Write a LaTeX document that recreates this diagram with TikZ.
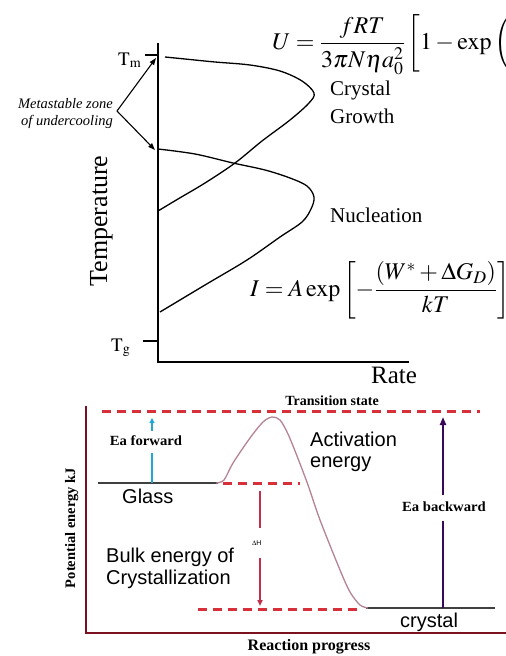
\documentclass[tikz,border=0pt]{standalone}
\usepackage{mathptmx}
\usepackage{fontspec}
\setmainfont{Liberation Serif}
\newfontfamily\arialf{Liberation Sans}
\usetikzlibrary{arrows.meta}
\definecolor{dashred}{HTML}{D8303A}
\definecolor{maroonax}{HTML}{7A1020}
\definecolor{mauve}{HTML}{B58492}
\definecolor{cyanar}{HTML}{22A6D6}
\definecolor{purplear}{HTML}{3A0858}
\definecolor{dhred}{HTML}{C0304A}
\definecolor{levelgray}{HTML}{404040}
\tikzset{
  ax/.style={line width=1.5pt},
  curve/.style={line width=1.3pt},
  blackarr/.style={line width=1.1pt,-{Triangle[length=7pt,width=5pt]}},
  reddash/.style={draw=dashred,line width=3pt,dash pattern=on 9pt off 6pt},
  serifbig/.style={font=\fontsize{21}{24}\selectfont},
  sanslab/.style={font=\arialf\fontsize{20}{22}\selectfont},
  boldlab/.style={font=\bfseries\fontsize{14}{16}\selectfont},
}
\begin{document}
\begin{tikzpicture}[x=1pt,y=-1pt]
\useasboundingbox (0,0) rectangle (506,656);
\fill[white] (0,0) rectangle (506,656);

% ---------- top diagram ----------
\coordinate (ytop) at (158,43);
\coordinate (org) at (158,362);
\coordinate (xend) at (409,362);
\draw[ax] (ytop) -- (org) -- (xend);
\coordinate (tmA) at (145,55); \coordinate (tmB) at (158,55);
\draw[ax] (tmA) -- (tmB);
\coordinate (tgA) at (143,341); \coordinate (tgB) at (158,341);
\draw[ax] (tgA) -- (tgB);

\node[anchor=base west,inner sep=0,font=\fontsize{19}{20}\selectfont] (tm) at (118,65) {$\mathrm{T_m}$};
\node[anchor=base west,inner sep=0,font=\fontsize{19}{20}\selectfont] (tg) at (111,351) {$\mathrm{T_g}$};

\node[rotate=90,anchor=base,inner sep=0,font=\fontsize{26}{28}\selectfont] (temp) at (107,221) {Temperature};
\node[anchor=base,inner sep=0,font=\fontsize{25}{28}\selectfont] (rate) at (394,383) {Rate};

% crystal growth curve
\draw[curve] plot[smooth,tension=0.55] coordinates {(165,57) (185,59) (215,62) (250,65) (280,71) (302,81) (314,93) (309,103) (290,120) (262,141) (235,163) (205,183) (178,199) (158,211)};
% nucleation curve
\draw[curve] plot[smooth,tension=0.55] coordinates {(158,149) (195,154) (233,163) (265,170) (290,178) (307,186) (314,197) (311,209) (302,222) (280,237) (247,260) (205,285) (160,312)};

\node[anchor=base west,inner sep=0,serifbig] (cry1) at (330,95) {Crystal};
\node[anchor=base west,inner sep=0,serifbig] (cry2) at (330,123) {Growth};
\node[anchor=base west,inner sep=0,serifbig] (nuc) at (330,222) {Nucleation};

\node[anchor=base east,inner sep=0,font=\itshape\fontsize{14.5}{16}\selectfont] (meta1) at (113,108) {Metastable zone};
\node[anchor=base east,inner sep=0,font=\itshape\fontsize{14.5}{16}\selectfont] (meta2) at (113,125) {of undercooling};
\coordinate (mz) at (117,111);
\coordinate (tmpt) at (156,58);
\coordinate (nupt) at (155,150);
\draw[blackarr] (mz) -- (tmpt);
\draw[blackarr] (mz) -- (nupt);

\node[anchor=west,inner sep=0,font=\fontsize{24}{26}\selectfont] (ueq) at (272,45)
  {$\displaystyle U=\frac{fRT}{3\pi N\eta a_0^2}\left[1-\exp\left(\vphantom{\frac{fRT}{3\pi N\eta a_0^2}}\right.\right.$};
\node[anchor=west,inner sep=0,font=\fontsize{24}{26}\selectfont] (ieq) at (250,290)
  {$\displaystyle I=A\exp\left[-\frac{(W^{*}+\Delta G_{D})}{kT}\right]$};

% ---------- bottom diagram ----------
\coordinate (bytop) at (86,406);
\coordinate (borg) at (86,633);
\coordinate (bxend) at (507,633);
\draw[draw=maroonax,line width=2.8pt] (bytop) -- (borg) -- (bxend);

\coordinate (d1a) at (102,411); \coordinate (d1b) at (480,411);
\draw[reddash] (d1a) -- (d1b);
\coordinate (d2a) at (223,483); \coordinate (d2b) at (300,483);
\draw[reddash] (d2a) -- (d2b);
\coordinate (d3a) at (198,609); \coordinate (d3b) at (362,609);
\draw[reddash] (d3a) -- (d3b);

\coordinate (gl1) at (98,483); \coordinate (gl2) at (218,483);
\draw[levelgray,line width=1.6pt] (gl1) -- (gl2);
\coordinate (cr1) at (366,608); \coordinate (cr2) at (495,608);
\draw[levelgray,line width=1.6pt] (cr1) -- (cr2);

\draw[mauve,line width=1.3pt] plot[smooth,tension=0.5] coordinates {(216,483) (224,480) (233,463) (250,438) (263,422) (272,417) (280,420) (288,434) (297,456) (308,485) (320,520) (340,570) (350,592) (360,605) (368,608)};

\node[anchor=base,inner sep=0,boldlab] (ts) at (332,405) {Transition state};

% Ea forward
\coordinate (ef1) at (152,483); \coordinate (ef2) at (152,453);
\draw[cyanar,line width=2pt] (ef1) -- (ef2);
\coordinate (ef3) at (152,431); \coordinate (ef4) at (152,418);
\draw[cyanar,line width=1.6pt,-{Triangle[length=5pt,width=5pt]}] (ef3) -- (ef4);
\node[anchor=base,inner sep=0,boldlab,xscale=1.05] (eaf) at (146,445) {Ea forward};

% Ea backward
\coordinate (eb1) at (443,608); \coordinate (eb2) at (443,521);
\draw[purplear,line width=2pt] (eb1) -- (eb2);
\coordinate (eb3) at (443,495); \coordinate (eb4) at (443,417);
\draw[purplear,line width=2pt,-{Triangle[length=8pt,width=6pt]}] (eb3) -- (eb4);
\node[anchor=base,inner sep=0,boldlab,xscale=1.05] (eab) at (444,511) {Ea backward};

% Delta H
\coordinate (dh1) at (260,491); \coordinate (dh2) at (260,528);
\draw[dhred,line width=2pt] (dh1) -- (dh2);
\coordinate (dh3) at (260,558); \coordinate (dh4) at (260,606);
\draw[dhred,line width=2pt,-{Triangle[length=6pt,width=5pt]}] (dh3) -- (dh4);
\node[anchor=base west,inner sep=0,font=\arialf\fontsize{7}{8}\selectfont] (dh) at (252,545) {$\Delta$H};

\node[anchor=base west,inner sep=0,sanslab] (act1) at (310,446) {Activation};
\node[anchor=base west,inner sep=0,sanslab] (act2) at (310,467) {energy};
\node[anchor=base west,inner sep=0,sanslab] (glass) at (122,503) {Glass};
\node[anchor=base west,inner sep=0,sanslab] (bulk1) at (106,562) {Bulk energy of};
\node[anchor=base west,inner sep=0,sanslab] (bulk2) at (106,584) {Crystallization};
\node[anchor=base west,inner sep=0,sanslab] (cryst) at (400,627) {crystal};

\node[rotate=90,anchor=base,inner sep=0,font=\bfseries\fontsize{14.5}{16}\selectfont] (pe) at (75,528) {Potential energy kJ};
\node[anchor=base,inner sep=0,font=\bfseries\fontsize{16}{18}\selectfont] (rp) at (309,650) {Reaction progress};
\end{tikzpicture}
\end{document}
